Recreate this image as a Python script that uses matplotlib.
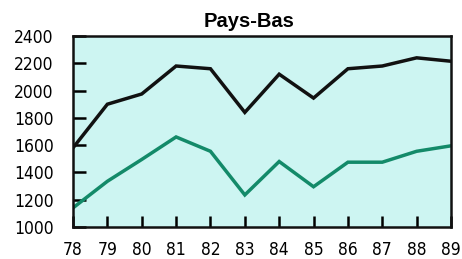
import matplotlib
matplotlib.use("Agg")
import matplotlib.pyplot as plt

years = [78, 79, 80, 81, 82, 83, 84, 85, 86, 87, 88, 89]
black_series = [1580, 1900, 1975, 2180, 2160, 1840, 2120, 1945, 2160, 2180, 2240, 2215]
green_series = [1140, 1335, 1495, 1660, 1555, 1235, 1480, 1295, 1475, 1475, 1555, 1595]
ytick_vals = [1000, 1200, 1400, 1600, 1800, 2000, 2200, 2400]

fig = plt.figure(figsize=(4.62, 2.59), dpi=100)
ax = fig.add_axes([73 / 462, 1 - 227 / 259, (451 - 73) / 462, (227 - 36) / 259])
ax.set_facecolor('#cdf5f2')

ax.plot(years, black_series, color='#111111', lw=2.5, solid_joinstyle='miter')
ax.plot(years, green_series, color='#138a69', lw=2.5, solid_joinstyle='miter')

ax.set_xlim(78, 89)
ax.set_ylim(1000, 2400)
ax.set_xticks(years)
ax.set_yticks(ytick_vals)

# condensed digits, closest thing to the narrow face of the original
lab_font = dict(family=['DejaVu Sans'], stretch='condensed', size=12.5)
ax.set_xticklabels([str(y) for y in years], **lab_font)
ax.set_yticklabels([str(v) for v in ytick_vals], **lab_font)

for s in ax.spines.values():
    s.set_linewidth(1.8)
    s.set_color('#111111')

ax.tick_params(axis='y', direction='in', length=9, width=1.8, pad=14)
ax.tick_params(axis='x', direction='in', length=8, width=1.8, pad=10)

fig.text(249 / 462, 1 - 27 / 259, 'Pays-Bas', fontsize=14.5, fontweight='bold',
         family=['Liberation Sans', 'DejaVu Sans'], ha='center', va='baseline')

fig.savefig('out.png', dpi=100)
